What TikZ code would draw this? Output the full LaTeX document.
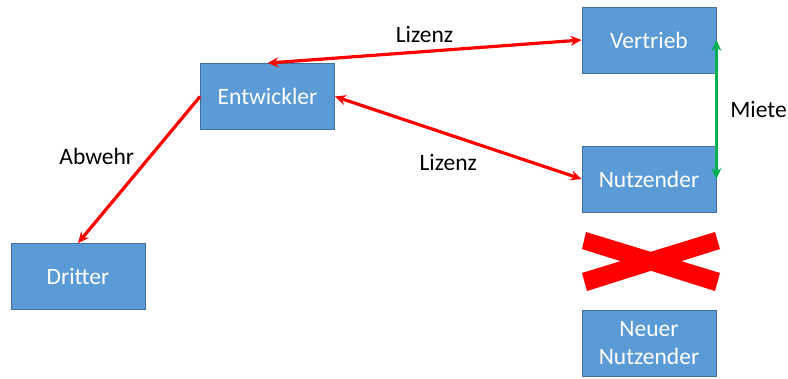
\documentclass[tikz,border=0pt]{standalone}
\usepackage{fontspec}
\setmainfont{Carlito}
\usepackage{tikz}
\usepackage{xcolor}
\usetikzlibrary{arrows.meta,positioning,quotes}

\definecolor{boxblau}{HTML}{5B9BD5}
\definecolor{boxrand}{HTML}{41719C}
\definecolor{mietgruen}{HTML}{00B050}

\begin{document}
\begin{tikzpicture}[x=1pt,y=-1pt,>={Stealth[length=11pt,width=10pt]},
            box/.style={rectangle,draw=boxrand,line width=0.8pt,fill=boxblau,text=white,
                minimum width=134pt,minimum height=66pt,align=center,
                font=\fontsize{23.5}{28}\selectfont},
            pfeil/.style={red,line width=3.2pt},
            label text/.style={text=black,font=\fontsize{23.5}{27}\selectfont}]

        \useasboundingbox (0,0) rectangle (788,378);

        \node[box] (E) at (267.5,96.5) {Entwickler};
        \node[box] (V) at (649,40) {Vertrieb};
        \node[box] (N) at (649,179) {Nutzender};
        \node[box] (D) at (78,276.5) {Dritter};
        \node[box] (NN) at (649,343) {Neuer\\Nutzender};

        \path[every node/.style={label text}]
        (E.north) edge[pfeil,<->] node [above=4pt] {Lizenz} (V.west)
        (E.east) edge[pfeil,<->] node [below=12pt,xshift=-10pt] {Lizenz} (N.west)
        (E.west) edge[pfeil,->] node [above left=0pt and 0pt] {Abwehr} (D.north)
        (V.east) edge[mietgruen,line width=3.2pt,<->] node [right=9pt] {Miete} (N.east);

        % Kreuz
        \fill[red] (586,232) -- (720,273) -- (715,291) -- (582,249) -- cycle;
        \fill[red] (715,232) -- (720,249) -- (587,291) -- (582,273) -- cycle;

    \end{tikzpicture}
\end{document}
